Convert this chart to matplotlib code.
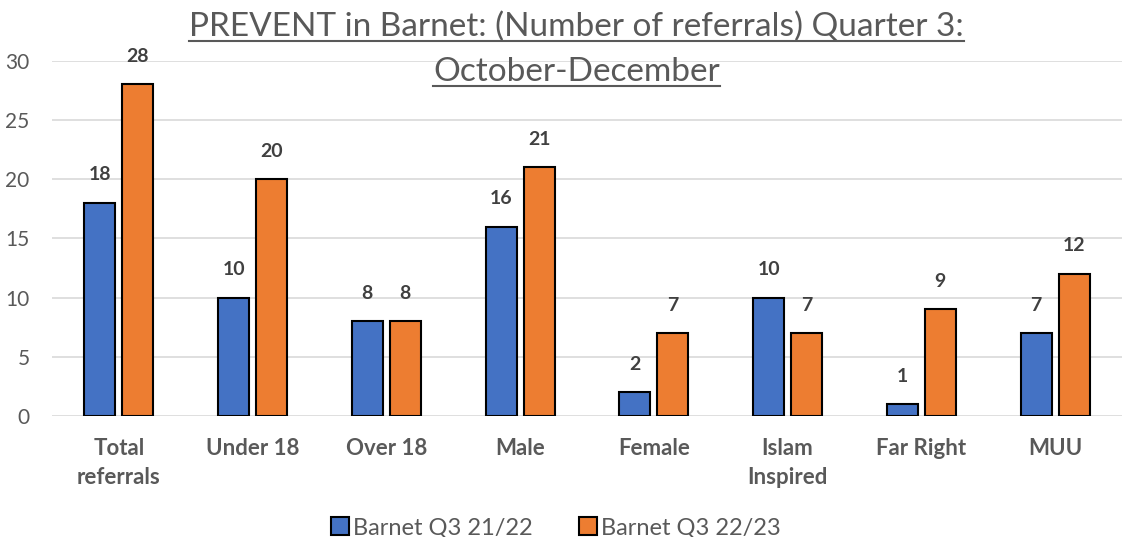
import matplotlib
matplotlib.use("Agg")
import matplotlib.pyplot as plt
import numpy as np
from matplotlib.lines import Line2D
from matplotlib.patches import Patch

categories = ["Total\nreferrals", "Under 18", "Over 18", "Male", "Female", "Islam\nInspired", "Far Right", "MUU"]
q3_2122 = [18, 10, 8, 16, 2, 10, 1, 7]
q3_2223 = [28, 20, 8, 21, 7, 7, 9, 12]
series_names = ["Barnet Q3 21/22", "Barnet Q3 22/23"]
title_lines = ["PREVENT in Barnet: (Number of referrals) Quarter 3:", "October-December"]

plt.rcParams['font.family'] = ['Lato', 'DejaVu Sans']
gray = "#595959"
blue = "#4472C4"
orange = "#ED7D31"

fig = plt.figure(figsize=(11.22, 5.37), dpi=100)
ax = fig.add_axes([0.0463, 0.2253, 0.9537, 0.6617])

x = np.arange(len(categories))
w = 0.232
off = 0.142
b1 = ax.bar(x - off, q3_2122, w, color=blue, edgecolor="black", linewidth=1.5, zorder=3)
b2 = ax.bar(x + off, q3_2223, w, color=orange, edgecolor="black", linewidth=1.5, zorder=3)

for bars, vals in ((b1, q3_2122), (b2, q3_2223)):
    for r, v in zip(bars, vals):
        ax.annotate(str(v), (r.get_x() + r.get_width() / 2, v), xytext=(0, 14),
                    textcoords="offset points", ha="center", va="bottom",
                    fontsize=14, fontweight="bold", color="#404040")

ax.set_xlim(-0.5, len(categories) - 0.5)
ax.set_ylim(0, 30)
ax.set_yticks(range(0, 31, 5))
ax.yaxis.grid(True, color="#D9D9D9", linewidth=1.2, zorder=0)
ax.set_axisbelow(True)
for s in ax.spines.values():
    s.set_visible(False)
ax.tick_params(axis="both", length=0)
ax.tick_params(axis="y", labelsize=15, labelcolor=gray, pad=16)
ax.set_xticks(x)
ax.set_xticklabels(categories, fontsize=16, fontweight="bold", color=gray, linespacing=1.45)
ax.tick_params(axis="x", pad=16)

# Title with underline
fig.canvas.draw()
renderer = fig.canvas.get_renderer()
ys = [0.933, 0.849]
for line, yy in zip(title_lines, ys):
    t = fig.text(0.514, yy, line, ha="center", va="baseline", fontsize=24, color=gray)
    bb = t.get_window_extent(renderer=renderer)
    bbf = bb.transformed(fig.transFigure.inverted())
    fig.add_artist(Line2D([bbf.x0, bbf.x1], [yy - 0.0095, yy - 0.0095],
                          transform=fig.transFigure, color=gray, linewidth=1.5))

handles = [Patch(facecolor=blue, edgecolor="black", linewidth=1.5),
           Patch(facecolor=orange, edgecolor="black", linewidth=1.5)]
fig.legend(handles, series_names, loc="center", bbox_to_anchor=(0.4955, 0.017),
           ncol=2, frameon=False, fontsize=17, labelcolor=gray,
           handlelength=0.75, handleheight=0.75, handletextpad=0.15, columnspacing=2.0)

fig.savefig("out.png", dpi=100)
